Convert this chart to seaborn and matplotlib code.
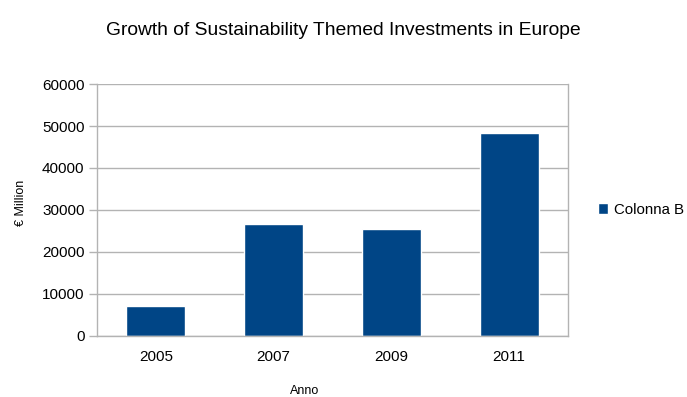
import matplotlib
matplotlib.use("Agg")
import matplotlib.pyplot as plt
import seaborn as sns
import pandas as pd

years = ["2005", "2007", "2009", "2011"]
values = [7100, 26600, 25400, 48300]
series_name = "Colonna B"

sns.set_style("white")
plt.rcParams["font.family"] = ["Liberation Sans", "DejaVu Sans"]
plt.rcParams["text.color"] = "black"
plt.rcParams["axes.labelcolor"] = "black"
plt.rcParams["xtick.color"] = "black"
plt.rcParams["ytick.color"] = "black"

df = pd.DataFrame({"Anno": years, "Value": values, "Serie": series_name})

fig = plt.figure(figsize=(6.87, 3.97), dpi=100)
ax = fig.add_axes([0.1412, 0.1537, 0.6856, 0.6347])

sns.barplot(data=df, x="Anno", y="Value", hue="Serie", palette=["#004586"],
            width=0.5, saturation=1, ax=ax, legend=True)

grid_c = "#b3b3b3"
ax.set_ylim(0, 60000)
ax.set_yticks(range(0, 60001, 10000))
ax.set_xlim(-0.5, 3.5)
ax.yaxis.grid(True, color=grid_c, linewidth=1)
ax.set_axisbelow(True)
for s in ax.spines.values():
    s.set_color(grid_c)
    s.set_linewidth(1)
ax.spines["top"].set_visible(False)

# category boundary ticks on the x-axis
ax.set_xticks([0, 1, 2, 3])
ax.set_xticks([-0.5, 0.5, 1.5, 2.5, 3.5], minor=True)
ax.tick_params(axis="x", which="major", length=0, labelsize=11, pad=10, labelcolor="black")
ax.tick_params(axis="x", which="minor", length=6, color=grid_c, width=1, direction="out")
ax.tick_params(axis="y", length=6, color=grid_c, width=1, labelsize=11, direction="out",
               pad=3, left=True, labelcolor="black")

ax.set_xlabel("Anno", fontsize=9, color="black")
ax.set_ylabel("€ Million", fontsize=9, color="black")
ax.xaxis.set_label_coords(0.4416, -0.196)
ax.yaxis.set_label_coords(-0.149, 0.528)

fig.text(0.5, 0.922, "Growth of Sustainability Themed Investments in Europe",
         ha="center", va="center", fontsize=13.9, color="black")

leg = ax.legend(loc="center left", bbox_to_anchor=(1.035, 0.5), frameon=False,
                fontsize=10.8, handlelength=0.7, handleheight=0.7, handletextpad=0.4)
for t in leg.get_texts():
    t.set_color("black")

fig.savefig("out.png", dpi=100)
